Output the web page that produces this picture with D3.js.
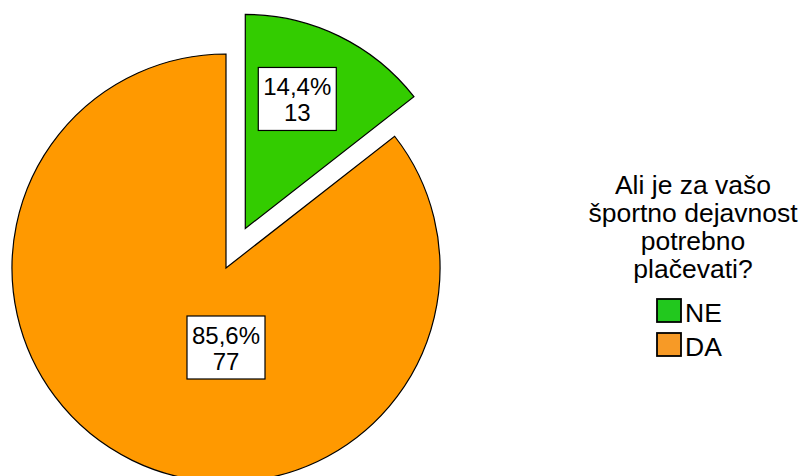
<!DOCTYPE html>
<html>
<head>
<meta charset="utf-8">
<script src="https://cdn.jsdelivr.net/npm/d3@7"></script>
<style>
  html, body { margin: 0; padding: 0; background: #fff; }
  svg { display: block; font-family: "Liberation Sans", Arial, sans-serif; }
</style>
</head>
<body>
<svg id="chart" width="804" height="476"></svg>
<script>
// Survey answers: "Is it necessary to pay for your sports activity?"
const categories = ["NE", "DA"];
const counts = [13, 77];
const percentLabels = ["14,4%", "85,6%"];
const colors = ["#33CC00", "#FF9900"];
const swatchColors = ["#22C81E", "#F79A26"];
const legendTitle = ["Ali je za vašo", "športno dejavnost", "potrebno", "plačevati?"];

const svg = d3.select("#chart");
const cx = 226, cy = 268, radius = 214;
const explode = 44;           // pull-out distance of the first slice

const pie = d3.pie().sort(null).value(d => d.count);
const arc = d3.arc().innerRadius(0).outerRadius(radius);
const data = pie(categories.map((c, i) => ({ cat: c, count: counts[i], pct: percentLabels[i], color: colors[i], swatch: swatchColors[i] })));

// label anchors: angle (deg, clockwise from 12 o'clock) and distance from the slice vertex
const labelPolar = [{ a: 21.8, r: 140 }, { a: 180, r: 79 }];

const g = svg.append("g").attr("transform", `translate(${cx},${cy})`);

const slices = g.selectAll("g.slice").data(data).join("g")
  .attr("class", "slice")
  .attr("transform", (d, i) => {
    if (i !== 0) return null;
    const mid = (d.startAngle + d.endAngle) / 2;
    return `translate(${explode * Math.sin(mid)},${-explode * Math.cos(mid)})`;
  });

slices.append("path")
  .attr("d", arc)
  .attr("fill", d => d.data.color)
  .attr("stroke", "#000")
  .attr("stroke-width", 1.2)
  .attr("stroke-linejoin", "miter");

// value boxes
slices.each(function (d, i) {
  const s = d3.select(this);
  const a = labelPolar[i].a * Math.PI / 180;
  const lx = labelPolar[i].r * Math.sin(a);
  const ly = -labelPolar[i].r * Math.cos(a);
  const lab = s.append("g").attr("transform", `translate(${lx},${ly})`);
  lab.append("rect")
    .attr("x", -39).attr("y", -31).attr("width", 78).attr("height", 63)
    .attr("fill", "#fff").attr("stroke", "#000").attr("stroke-width", 1.2);
  const t = lab.append("text")
    .attr("text-anchor", "middle")
    .attr("font-size", 24)
    .attr("fill", "#000");
  t.append("tspan").attr("x", 0).attr("y", -3).text(d.data.pct);
  t.append("tspan").attr("x", 0).attr("y", 23).text(d.data.count);
});

// legend
const legend = svg.append("g").attr("transform", "translate(693,0)");
legend.append("text")
  .attr("text-anchor", "middle")
  .attr("font-size", 26.5)
  .attr("fill", "#000")
  .selectAll("tspan").data(legendTitle).join("tspan")
  .attr("x", 0)
  .attr("y", (d, i) => 194 + i * 28)
  .text(d => d);

const items = legend.selectAll("g.item").data(data).join("g")
  .attr("class", "item")
  .attr("transform", (d, i) => `translate(-36,${299 + i * 34})`);
items.append("rect")
  .attr("width", 24).attr("height", 23)
  .attr("fill", d => d.data.swatch)
  .attr("stroke", "#000").attr("stroke-width", 1.8);
items.append("text")
  .attr("x", 28).attr("y", 23)
  .attr("font-size", 26.5)
  .attr("fill", "#000")
  .text(d => d.data.cat);
</script>
</body>
</html>
